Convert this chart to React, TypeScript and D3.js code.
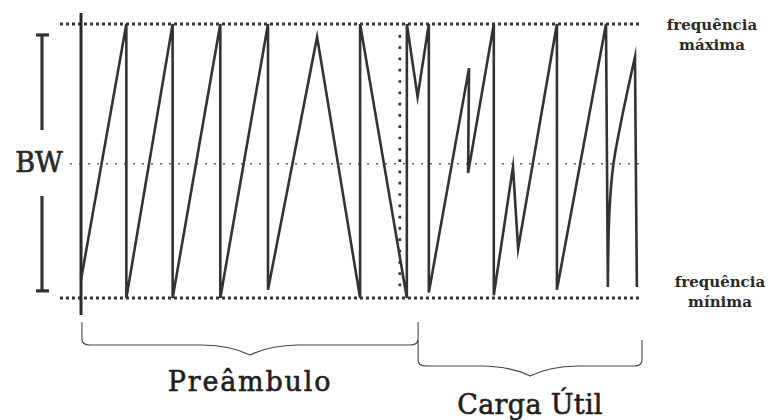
import React from "react";
import * as d3 from "d3";

// ---- data (time in symbol periods, frequency normalised 0 = min, 1 = max) ----
const signalTime = [0, 0.97, 0.97, 1.96, 1.96, 2.98, 2.98, 4.0, 4.0, 5.05, 5.97, 5.97, 6.97, 6.97, 7.2, 7.44, 7.44, 8.3, 8.28, 8.83, 8.83, 9.24, 9.35, 10.18, 10.18, 11.23, 11.27];
const signalFreq = [0.066, 1, 0, 1, 0, 1, 0, 1, 0.03, 0.953, 0, 1, 0, 1, 0.734, 1, 0.02, 0.839, 0.456, 1, 0.01, 0.478, 0.18, 1, 0.03, 1, 0.04];
const curveTime = [11.27, 11.3, 11.38, 11.53, 11.68, 11.85];
const curveFreq = [0.04, 0.303, 0.478, 0.624, 0.748, 0.88];
const tailTime = [11.85, 11.89];
const tailFreq = [0.88, 0.04];

const separatorTime = 6.82;
const separatorFreq = [0.03, 0.96];
const midFreq = 0.49;

const segmentLabels = ["Preâmbulo", "Carga Útil"];
const segmentStart = [0.02, 7.21];
const segmentEnd = [7.21, 12.0];

const bwLabel = "BW";
const maxLabel = ["frequência", "máxima"];
const minLabel = ["frequência", "mínima"];

const W = 772;
const H = 420;
const FONT = "'DejaVu Serif', 'Liberation Serif', serif";
const INK = "#333";

const x = d3.scaleLinear().domain([0, 12]).range([81, 642]);
const y = d3.scaleLinear().domain([0, 1]).range([298, 24]);

function buildSignalPath(): string {
  const lin = d3
    .line<[number, number]>()
    .x((d) => x(d[0]))
    .y((d) => y(d[1]))
    .curve(d3.curveLinear);
  const cur = d3
    .line<[number, number]>()
    .x((d) => x(d[0]))
    .y((d) => y(d[1]))
    .curve(d3.curveCatmullRom.alpha(0.5));
  const main = signalTime.map((t, i) => [t, signalFreq[i]] as [number, number]);
  const curve = curveTime.map((t, i) => [t, curveFreq[i]] as [number, number]);
  const tail = tailTime.map((t, i) => [t, tailFreq[i]] as [number, number]);
  const a = lin(main) || "";
  const b = (cur(curve) || "").replace(/^M/, "L");
  const c = (lin(tail) || "").replace(/^M/, "L");
  return a + b + c;
}

function bracePath(x1: number, x2: number, yTop: number, yBot: number, tipY: number): string {
  const r = 6;
  const mid = (x1 + x2) / 2;
  return [
    `M${x1},${yTop}`,
    `L${x1},${yBot - r}`,
    `Q${x1},${yBot} ${x1 + r + 2},${yBot}`,
    `L${mid - 48},${yBot}`,
    `C${mid - 22},${yBot + 0.5} ${mid - 8},${tipY - 4} ${mid},${tipY}`,
    `C${mid + 8},${tipY - 4} ${mid + 22},${yBot + 0.5} ${mid + 48},${yBot}`,
    `L${x2 - r - 2},${yBot}`,
    `Q${x2},${yBot} ${x2},${yBot - r}`,
    `L${x2},${yTop}`,
  ].join(" ");
}

const braceLayout = [
  { top: 322, bot: 345, tip: 355, label: 391, spacing: 1.8 },
  { top: 340, bot: 366, tip: 376, label: 414, spacing: 0.3 },
];

export default function App() {
  const signal = buildSignalPath();
  return (
    <svg width={W} height={H} style={{ position: "absolute", left: 0, top: 0, background: "#fff" }}>
      {/* reference lines */}
      <line x1={x(-0.45)} x2={x(11.96)} y1={y(1)} y2={y(1)} stroke={INK} strokeWidth={3} strokeDasharray="3 3" />
      <line x1={x(-0.45)} x2={x(11.96)} y1={y(0)} y2={y(0)} stroke={INK} strokeWidth={3} strokeDasharray="3 3" />
      <line x1={x(-0.23)} x2={x(12.03)} y1={y(midFreq)} y2={y(midFreq)} stroke={INK} strokeWidth={1.5} strokeDasharray="1.5 7.5" />
      <line
        x1={x(separatorTime)}
        x2={x(separatorTime)}
        y1={y(separatorFreq[1])}
        y2={y(separatorFreq[0])}
        stroke={INK}
        strokeWidth={2.7}
        strokeDasharray="2.7 8.6"
      />

      {/* time axis */}
      <line x1={x(0)} x2={x(0)} y1={13} y2={315} stroke="#2a2a2a" strokeWidth={3} />

      {/* chirp signal */}
      <path d={signal} fill="none" stroke={INK} strokeWidth={2.6} strokeLinejoin="miter" strokeMiterlimit={10} />

      {/* BW bracket */}
      <g stroke="#333" strokeWidth={3.2}>
        <line x1={42} x2={42} y1={y(0.96)} y2={130} />
        <line x1={42} x2={42} y1={196} y2={y(0.026)} />
        <line x1={36} x2={49} y1={y(0.96)} y2={y(0.96)} />
        <line x1={36} x2={49} y1={y(0.026)} y2={y(0.026)} />
      </g>
      <text x={39} y={172} textAnchor="middle" fontFamily={FONT} fontSize={27} fill="#2a2a2a" stroke="#2a2a2a" strokeWidth={0.7}>
        {bwLabel}
      </text>

      {/* frequency labels */}
      <text textAnchor="middle" fontFamily={FONT} fontSize={15} fontWeight="bold" fill="#2a2a2a">
        <tspan x={712} y={30}>{maxLabel[0]}</tspan>
        <tspan x={712} y={50}>{maxLabel[1]}</tspan>
      </text>
      <text textAnchor="middle" fontFamily={FONT} fontSize={15} fontWeight="bold" fill="#2a2a2a">
        <tspan x={720} y={287}>{minLabel[0]}</tspan>
        <tspan x={720} y={307}>{minLabel[1]}</tspan>
      </text>

      {/* segment braces */}
      {segmentLabels.map((lab, i) => {
        const L = braceLayout[i];
        const x1 = x(segmentStart[i]);
        const x2 = x(segmentEnd[i]);
        return (
          <g key={lab}>
            <path d={bracePath(x1, x2, L.top, L.bot, L.tip)} fill="none" stroke="#444" strokeWidth={1.1} />
            <text
              x={(x1 + x2) / 2}
              y={L.label}
              textAnchor="middle"
              fontFamily={FONT}
              fontSize={27}
              letterSpacing={L.spacing}
              fill="#1e1e1e"
              stroke="#1e1e1e"
              strokeWidth={0.6}
            >
              {lab}
            </text>
          </g>
        );
      })}
    </svg>
  );
}
